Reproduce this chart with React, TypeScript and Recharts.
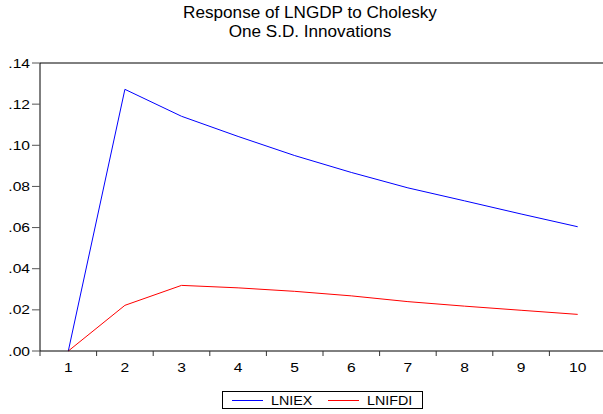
import { LineChart, Line, XAxis, YAxis, ReferenceLine } from 'recharts';

const steps = [1, 2, 3, 4, 5, 6, 7, 8, 9, 10];
const lniex = [0, 0.1272, 0.1141, 0.1043, 0.095, 0.0868, 0.0793, 0.073, 0.0666, 0.0604];
const lnifdi = [0, 0.0222, 0.0319, 0.0307, 0.029, 0.0268, 0.024, 0.0218, 0.0198, 0.0178];
const yTicks = [0, 0.02, 0.04, 0.06, 0.08, 0.1, 0.12, 0.14];
const seriesNames = ['LNIEX', 'LNIFDI'];
const seriesColors = ['#0000ff', '#ff0000'];

const data = steps.map((step, i) => ({ step, LNIEX: lniex[i], LNIFDI: lnifdi[i] }));

// plot box runs past the right edge of the picture, like the original
const CHART_W = 612;
const PLOT_LEFT = 40;
const PLOT_RIGHT = 606;
const HALF_BAND = (PLOT_RIGHT - PLOT_LEFT) / steps.length / 2;
const FONT = '"Liberation Sans", Arial, sans-serif';
const STRETCH = 1.2; // the source graph was stretched sideways

function StepTick(props: any) {
  const { x, y, payload } = props;
  return (
    <g>
      <line x1={x - HALF_BAND} x2={x - HALF_BAND} y1={y - 12} y2={y - 7} stroke="#333" />
      <text
        transform={`translate(${x},${y}) scale(${STRETCH},1)`}
        dy="0.71em" textAnchor="middle" fontSize={13} fill="#000" fontFamily={FONT}
      >
        {payload.value}
      </text>
    </g>
  );
}

function ValueTick(props: any) {
  const { x, y, payload } = props;
  return (
    <text
      transform={`translate(${x},${y}) scale(${STRETCH},1)`}
      dy="0.355em" textAnchor="end" fontSize={13} fill="#000" fontFamily={FONT}
    >
      {payload.value.toFixed(2).slice(1)}
    </text>
  );
}

// legend drawn as its own little svg under the plot
const legendSlots = [232, 328];

function LegendBox() {
  return (
    <svg width={603} height={30} style={{ position: 'absolute', left: 0, top: 384 }}>
      <rect x={222.5} y={7.5} width={200} height={17} fill="#fff" stroke="#000" />
      {seriesNames.map((name, i) => (
        <g key={name}>
          <line x1={legendSlots[i]} x2={legendSlots[i] + 31} y1={16.5} y2={16.5} stroke={seriesColors[i]} />
          <text
            transform={`translate(${legendSlots[i] + 39},21) scale(1.1,1)`}
            fontSize={13} fill="#000" fontFamily={FONT}
          >
            {name}
          </text>
        </g>
      ))}
    </svg>
  );
}

export default function App() {
  return (
    <div
      style={{
        position: 'absolute', left: 0, top: 0, width: 603, height: 414,
        overflow: 'hidden', background: '#fff', fontFamily: FONT, color: '#000',
      }}
    >
      <div
        style={{
          position: 'absolute', left: 0, top: 3, width: 620, textAlign: 'center',
          fontSize: 16, lineHeight: '19px', transform: 'scaleX(1.07)', transformOrigin: '310px 0',
        }}
      >
        Response of LNGDP to Cholesky
        <br />
        One S.D. Innovations
      </div>
      <LineChart
        width={CHART_W}
        height={414}
        data={data}
        margin={{ top: 63, right: CHART_W - PLOT_RIGHT, bottom: 33, left: 0 }}
      >
        <XAxis
          dataKey="step"
          type="number"
          domain={[0.5, 10.5]}
          ticks={steps}
          tickLine={false}
          tickSize={5}
          tickMargin={7}
          height={30}
          axisLine={{ stroke: '#000' }}
          tick={<StepTick />}
        />
        <YAxis
          domain={[0, 0.14]}
          ticks={yTicks}
          width={PLOT_LEFT}
          tickSize={8}
          tickMargin={2}
          axisLine={{ stroke: '#000' }}
          tickLine={{ stroke: '#555' }}
          tick={<ValueTick />}
        />
        <ReferenceLine y={0.14} stroke="#000" />
        <ReferenceLine x={10.5} stroke="#000" />
        <Line type="linear" dataKey="LNIEX" stroke={seriesColors[0]} strokeWidth={1} dot={false} isAnimationActive={false} />
        <Line type="linear" dataKey="LNIFDI" stroke={seriesColors[1]} strokeWidth={1} dot={false} isAnimationActive={false} />
      </LineChart>
      <LegendBox />
    </div>
  );
}
